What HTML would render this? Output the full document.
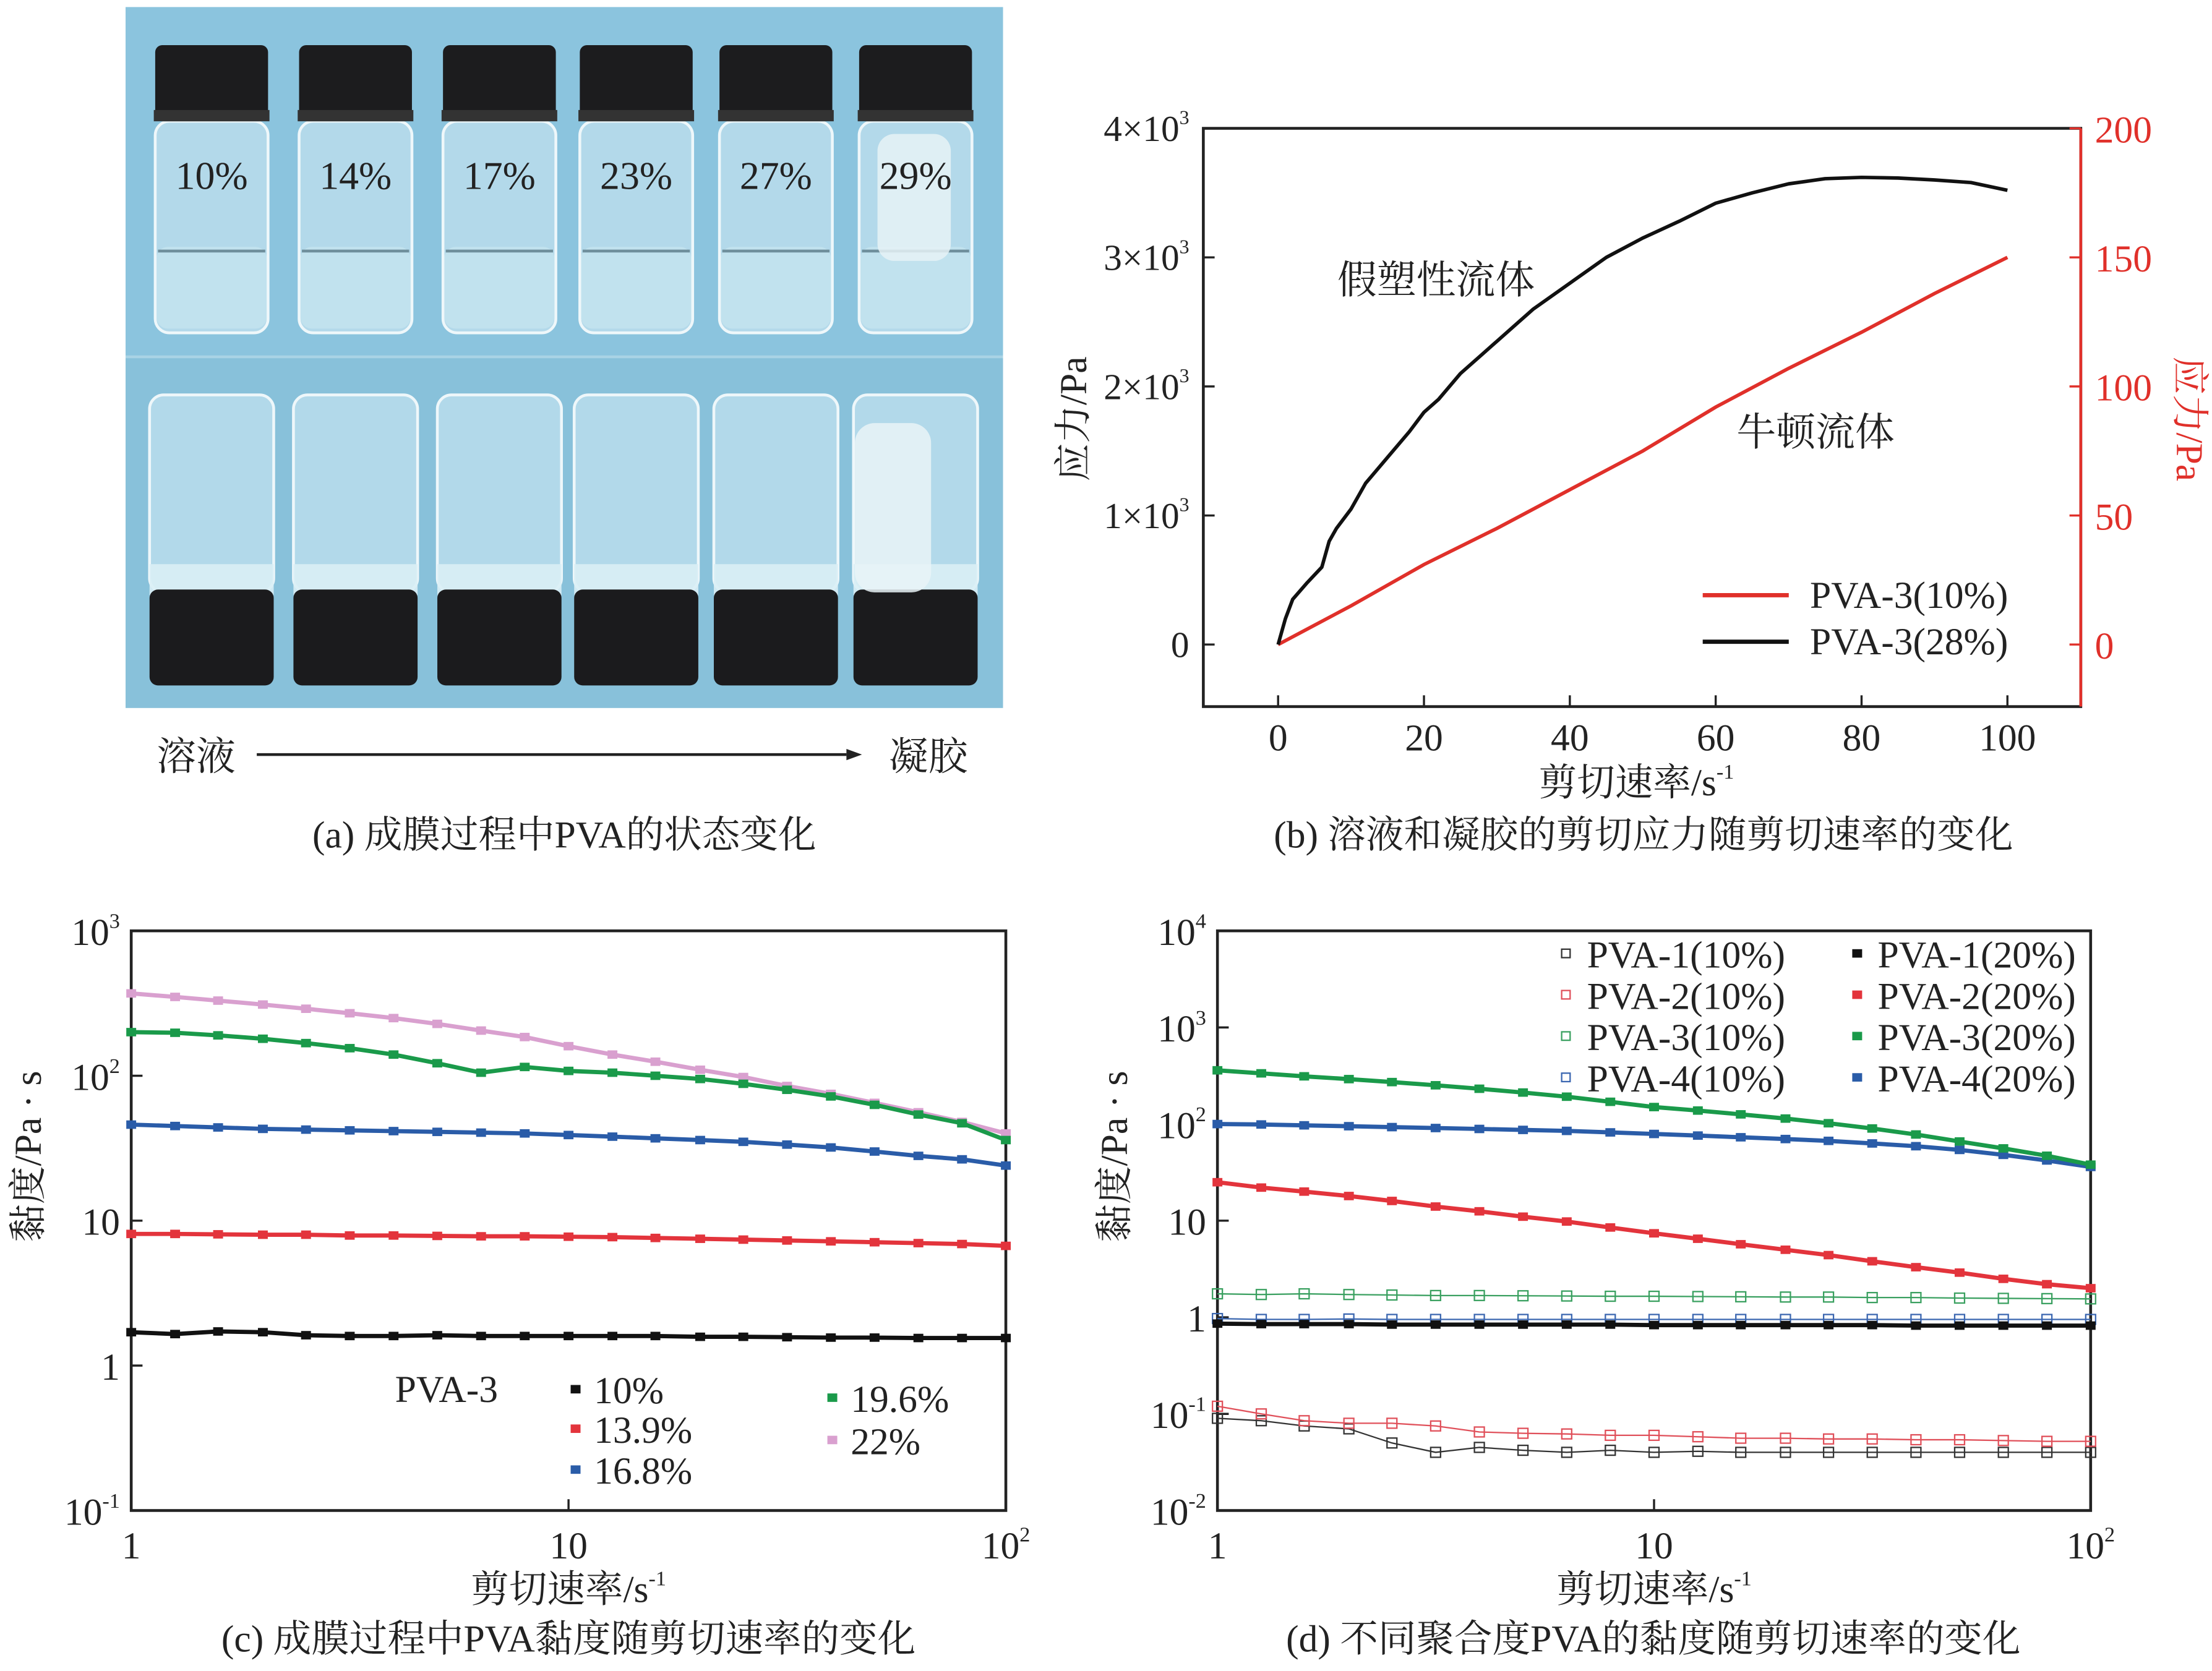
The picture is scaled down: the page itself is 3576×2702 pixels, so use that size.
<!DOCTYPE html>
<html><head><meta charset="utf-8">
<style>
html,body{margin:0;padding:0;background:#fff;}
svg{display:block;}
text{font-family:"Liberation Serif","Noto Serif CJK SC",serif;fill:#222;}
</style></head>
<body>
<svg id="fig" width="3576" height="2702" viewBox="0 0 1568 1184.8" xmlns="http://www.w3.org/2000/svg">
<g id="pa">
  <rect x="89" y="5" width="622" height="248" fill="#8bc4de"/>
  <rect x="89" y="253" width="622" height="249" fill="#88c1da"/>
  <line x1="89" y1="253" x2="711" y2="253" stroke="#a9d3e5" stroke-width="2"/>
</g>
<g id="texts">
  <text x="111" y="546" font-size="28">溶液</text>
  <line x1="182" y1="535" x2="600" y2="535" stroke="#222" stroke-width="2"/>
  <polygon points="600,531 611,535 600,539" fill="#222"/>
  <text x="630" y="546" font-size="28">凝胶</text>
  <text x="400" y="601" font-size="27" text-anchor="middle">(a) 成膜过程中PVA的状态变化</text>
  <text x="1165" y="601" font-size="27" text-anchor="middle">(b) 溶液和凝胶的剪切应力随剪切速率的变化</text>
  <text x="403" y="1171" font-size="27" text-anchor="middle">(c) 成膜过程中PVA黏度随剪切速率的变化</text>
  <text x="1172" y="1171" font-size="27" text-anchor="middle">(d) 不同聚合度PVA的黏度随剪切速率的变化</text>
</g>
<g id="pb"></g>
<g id="pc"></g>
<g id="pd"></g>
</svg>
<script>
// ---------- Panel a labels ----------
const vialLabels = ["10%","14%","17%","23%","27%","29%"];
// ---------- Panel b data ----------
const bBlackX = [0,1,2,4,6,7,8,10,12,15,18,20,22,25,28,30,33,35,40,45,50,55,60,65,70,75,80,85,90,95,100];
const bBlackY = [0,200,350,480,600,800,900,1050,1250,1450,1650,1800,1900,2100,2250,2350,2500,2600,2800,3000,3150,3280,3420,3500,3570,3610,3620,3615,3600,3580,3520];
const bRedX = [0,10,20,30,40,50,60,70,80,90,100];
const bRedY = [0,15,31,45,60,75,92,107,121,136,150];
const bXTicks = [0,20,40,60,80,100];
const bLeftTicks = [0,1,2,3,4];
const bRightTicks = [0,50,100,150,200];
// ---------- Panel c data (x = 10^(i/10), i=0..20) ----------
const cX = [1,1.26,1.58,2,2.51,3.16,3.98,5.01,6.31,7.94,10,12.6,15.8,20,25.1,31.6,39.8,50.1,63.1,79.4,100];
const c10 = [1.7,1.65,1.72,1.7,1.62,1.6,1.6,1.62,1.6,1.6,1.6,1.6,1.6,1.58,1.58,1.57,1.56,1.56,1.55,1.55,1.55];
const c139 = [8.1,8.1,8.05,8,8,7.9,7.9,7.85,7.8,7.8,7.75,7.7,7.6,7.5,7.4,7.3,7.2,7.1,7,6.9,6.7];
const c168 = [46,45,44,43,42.5,42,41.5,41,40.5,40,39,38,37,36,35,33.5,32,30,28,26.5,24];
const c196 = [200,198,190,180,168,155,140,122,105,115,108,105,100,95,88,80,72,63,54,47,36];
const c22 = [370,350,330,310,290,270,250,228,205,185,160,140,125,110,98,85,75,65,56,48,40];
// ---------- Panel d data ----------
const dX = cX;
const d1_10 = [0.09,0.085,0.075,0.07,0.05,0.04,0.045,0.042,0.04,0.042,0.04,0.041,0.04,0.04,0.04,0.04,0.04,0.04,0.04,0.04,0.04];
const d2_10 = [0.12,0.1,0.085,0.08,0.08,0.075,0.065,0.063,0.062,0.06,0.06,0.058,0.056,0.056,0.055,0.055,0.054,0.054,0.053,0.052,0.052];
const d3_10 = [1.75,1.72,1.75,1.72,1.7,1.68,1.68,1.67,1.66,1.65,1.65,1.64,1.63,1.62,1.62,1.6,1.6,1.58,1.57,1.56,1.55];
const d4_10 = [0.97,0.95,0.95,0.96,0.95,0.95,0.95,0.95,0.95,0.95,0.95,0.95,0.95,0.95,0.95,0.95,0.95,0.95,0.95,0.95,0.95];
const d1_20 = [0.86,0.85,0.85,0.85,0.84,0.84,0.84,0.84,0.84,0.84,0.83,0.83,0.83,0.83,0.83,0.83,0.82,0.82,0.82,0.82,0.82];
const d2_20 = [25,22,20,18,16,14,12.5,11,9.8,8.5,7.4,6.5,5.7,5,4.4,3.8,3.3,2.9,2.5,2.2,2];
const d3_20 = [360,335,312,292,272,252,232,212,192,170,150,138,126,114,102,90,78,66,56,47,38];
const d4_20 = [100,99,97,95,93,91,89,87,85,82,79,76,73,70,67,63,59,54,48,42,36];

const NS = "http://www.w3.org/2000/svg";
function mk(parent, tag, attrs, txt){
  const e = document.createElementNS(NS, tag);
  for (const k in attrs) e.setAttribute(k, attrs[k]);
  if (txt !== undefined) e.textContent = txt;
  parent.appendChild(e);
  return e;
}

// ---------- Panel a drawing ----------
const pa = document.getElementById('pa');
const vialCx = [150,252,354,451,550,649];
vialLabels.forEach((lab,i)=>{
  const cx = vialCx[i];
  const g = mk(pa,'g',{});
  
  
  mk(g,'rect',{x:cx-40,y:86,width:80,height:150,rx:10,fill:'#b3d9ea',stroke:'#eef7fa','stroke-width':2});
  mk(g,'rect',{x:cx-39,y:175,width:78,height:58,rx:8,fill:'#c4e3ef',opacity:0.8});
  mk(g,'line',{x1:cx-38,y1:178,x2:cx+38,y2:178,stroke:'#6f8f9c','stroke-width':2});
  mk(g,'rect',{x:cx-40,y:32,width:80,height:54,rx:5,fill:'#1c1c1e'});
  mk(g,'rect',{x:cx-41,y:78,width:82,height:8,fill:'#333'});
  if(i===5){
    mk(g,'rect',{x:cx-27,y:95,width:52,height:90,rx:12,fill:'#e6f2f6',opacity:0.85});
  }
  const t = mk(g,'text',{x:cx,y:134,'font-size':28,'text-anchor':'middle',fill:'#1a1a1a'},lab);
  
  
  const gb = mk(pa,'g',{});
  
  
  mk(gb,'rect',{x:cx-44,y:280,width:88,height:140,rx:10,fill:'#b2d9ea',stroke:'#eef7fa','stroke-width':2});
  mk(gb,'rect',{x:cx-44,y:400,width:88,height:22,fill:'#d9eef5',opacity:0.9});
  mk(gb,'rect',{x:cx-44,y:418,width:88,height:68,rx:6,fill:'#1b1b1d'});
});
mk(pa,'rect',{x:606,y:300,width:54,height:120,rx:14,fill:'#e9f3f7',opacity:0.85});

// ---------- Panel b ----------
const pb = document.getElementById('pb');
const bL=853,bR=1475,bT=91,bB=501,bX0=906,bX100=1423,bY0=457;
function bx(v){return bX0+(bX100-bX0)*v/100;}
function byL(v){return bY0-(bY0-bT)*v/4000;}
function byR(v){return bY0-(bY0-bT)*v/200;}
mk(pb,'rect',{x:bL,y:bT,width:bR-bL,height:bB-bT,fill:'none',stroke:'#222','stroke-width':2});
const bRightAx = mk(pb,'line',{x1:bR,y1:bT,x2:bR,y2:bB,stroke:'#e0302a','stroke-width':2});


bXTicks.forEach(v=>{
  mk(pb,'line',{x1:bx(v),y1:bB,x2:bx(v),y2:bB-8,stroke:'#222','stroke-width':1.5});
  const t=mk(pb,'text',{x:bx(v),y:532,'font-size':27,'text-anchor':'middle'},String(v));
  
  
});
bLeftTicks.forEach(v=>{
  const y=byL(v*1000);
  mk(pb,'line',{x1:bL,y1:y,x2:bL+8,y2:y,stroke:'#222','stroke-width':1.5});
  const t=mk(pb,'text',{x:843,y:y+9,'font-size':26,'text-anchor':'end'});
  
  
  if(v===0){t.textContent='0';}
  else{t.textContent=v+'×10';mk(t,'tspan',{'font-size':14,dy:-12},'3');}
});
bRightTicks.forEach(v=>{
  const y=byR(v);
  mk(pb,'line',{x1:bR,y1:y,x2:bR-8,y2:y,stroke:'#e0302a','stroke-width':1.5});
  const t=mk(pb,'text',{x:1485,y:y+10,'font-size':27,fill:'#e0302a',style:'fill:#e0302a'},String(v));
  
  
});
let t;
t=mk(pb,'text',{x:0,y:0,'font-size':27,'text-anchor':'middle',transform:'translate(770,297) rotate(-90)'},'应力/Pa');


t=mk(pb,'text',{x:0,y:0,'font-size':27,'text-anchor':'middle',style:'fill:#e0302a',transform:'translate(1543,297) rotate(90)'},'应力/Pa');


t=mk(pb,'text',{x:1160,y:564,'font-size':27,'text-anchor':'middle'},'剪切速率/s');
mk(t,'tspan',{'font-size':15,dy:-12},'-1');


t=mk(pb,'text',{x:948,y:208,'font-size':28},'假塑性流体');


t=mk(pb,'text',{x:1231,y:316,'font-size':28},'牛顿流体');


let pr = mk(pb,'polyline',{points:bRedX.map((x,i)=>bx(x)+','+byR(bRedY[i])).join(' '),fill:'none',stroke:'#e0302a','stroke-width':2.5});


let pk = mk(pb,'polyline',{points:bBlackX.map((x,i)=>bx(x)+','+byL(bBlackY[i])).join(' '),fill:'none',stroke:'#111','stroke-width':2.5,'stroke-linejoin':'round'});


mk(pb,'line',{x1:1207,y1:422,x2:1268,y2:422,stroke:'#e0302a','stroke-width':3});
t=mk(pb,'text',{x:1283,y:431,'font-size':27},'PVA-3(10%)');


mk(pb,'line',{x1:1207,y1:455,x2:1268,y2:455,stroke:'#111','stroke-width':3});
t=mk(pb,'text',{x:1283,y:464,'font-size':27},'PVA-3(28%)');



// ---------- log panels ----------
function logPanel(g, L,R,T,B, yMinExp,yMaxExp, yLabels){
  mk(g,'rect',{x:L,y:T,width:R-L,height:B-T,fill:'none',stroke:'#222','stroke-width':2});
  const xs=v=>L+(R-L)*Math.log10(v)/2;
  const ys=v=>B-(B-T)*(Math.log10(v)-yMinExp)/(yMaxExp-yMinExp);
  yLabels.forEach((lab,i)=>{
    const e=yMinExp+i, y=ys(Math.pow(10,e));
    if(i>0&&i<yLabels.length-1) mk(g,'line',{x1:L,y1:y,x2:L+8,y2:y,stroke:'#222','stroke-width':1.5});
    const tt=mk(g,'text',{x:L-8,y:y+10,'font-size':27,'text-anchor':'end'});
    
    
    tt.textContent=lab[0];
    if(lab[1]!==null) mk(tt,'tspan',{'font-size':15,dy:-12},lab[1]);
  });
  mk(g,'line',{x1:xs(10),y1:B,x2:xs(10),y2:B-8,stroke:'#222','stroke-width':1.5});
  [['1',null,1],['10',null,10],['10','2',100]].forEach(a=>{
    const tt=mk(g,'text',{x:xs(a[2]),y:B+34,'font-size':27,'text-anchor':'middle'});
    
    
    tt.textContent=a[0];
    if(a[1]) mk(tt,'tspan',{'font-size':15,dy:-12},a[1]);
  });
  const cx=(L+R)/2;
  const xt=mk(g,'text',{x:cx,y:1136,'font-size':27,'text-anchor':'middle'},'剪切速率/s');
  mk(xt,'tspan',{'font-size':15,dy:-12},'-1');
  
  
  const yt=mk(g,'text',{x:0,y:0,'font-size':27,'text-anchor':'middle',transform:'translate('+(L-64)+',820) rotate(-90)'},'黏度/Pa · s');
  
  
  return {xs,ys};
}
function series(g, ax, xv, yv, color, filled, name){
  const sg=mk(g,'g',{});
  
  
  mk(sg,'polyline',{points:xv.map((x,i)=>ax.xs(x)+','+ax.ys(yv[i])).join(' '),fill:'none',stroke:color,'stroke-width':filled?3:1});
  xv.forEach((x,i)=>{
    const px=ax.xs(x),py=ax.ys(yv[i]);
    if(filled) mk(sg,'rect',{x:px-3.5,y:py-3,width:7,height:6,fill:color});
    else mk(sg,'rect',{x:px-3.5,y:py-3.5,width:7,height:7,fill:'none',stroke:color,'stroke-width':1});
  });
}
// Panel c
const pc=document.getElementById('pc');
const axc=logPanel(pc,93,713,660,1071,-1,3,[['10','-1'],['1',null],['10',null],['10','2'],['10','3']]);
series(pc,axc,cX,c10,'#111',true,'series-c-10');
series(pc,axc,cX,c139,'#e3343c',true,'series-c-13-9');
series(pc,axc,cX,c168,'#2a5ca8',true,'series-c-16-8');
series(pc,axc,cX,c22,'#d9a0cf',true,'series-c-22');
series(pc,axc,cX,c196,'#1a9a4a',true,'series-c-19-6');
t=mk(pc,'text',{x:280,y:994,'font-size':27},'PVA-3');


[['10%','#111',408,985],['13.9%','#e3343c',408,1013],['16.8%','#2a5ca8',408,1042],['19.6%','#1a9a4a',590,991],['22%','#d9a0cf',590,1021]].forEach(a=>{
  mk(pc,'rect',{x:a[2]-3.5,y:a[3]-3,width:7,height:6,fill:a[1]});
  const tt=mk(pc,'text',{x:a[2]+13,y:a[3]+10,'font-size':27},a[0]);
  
  
});
// Panel d
const pd=document.getElementById('pd');
const axd=logPanel(pd,863,1482,660,1071,-2,4,[['10','-2'],['10','-1'],['1',null],['10',null],['10','2'],['10','3'],['10','4']]);
series(pd,axd,dX,d1_10,'#333',false,'series-pva1-10');
series(pd,axd,dX,d2_10,'#e0505a',false,'series-pva2-10');
series(pd,axd,dX,d3_10,'#3aa060',false,'series-pva3-10');
series(pd,axd,dX,d4_10,'#3a66b0',false,'series-pva4-10');
series(pd,axd,dX,d1_20,'#111',true,'series-pva1-20');
series(pd,axd,dX,d2_20,'#e3343c',true,'series-pva2-20');
series(pd,axd,dX,d4_20,'#2a5ca8',true,'series-pva4-20');
series(pd,axd,dX,d3_20,'#1a9a4a',true,'series-pva3-20');
[['PVA-1(10%)','#333',0],['PVA-2(10%)','#e0505a',1],['PVA-3(10%)','#3aa060',2],['PVA-4(10%)','#3a66b0',3]].forEach(a=>{
  const y=676+a[2]*29.3;
  mk(pd,'rect',{x:1107,y:y-3,width:6,height:6,fill:'none',stroke:a[1],'stroke-width':1});
  const tt=mk(pd,'text',{x:1125,y:y+10,'font-size':27},a[0]);
  
  
});
[['PVA-1(20%)','#111',0],['PVA-2(20%)','#e3343c',1],['PVA-3(20%)','#1a9a4a',2],['PVA-4(20%)','#2a5ca8',3]].forEach(a=>{
  const y=676+a[2]*29.3;
  mk(pd,'rect',{x:1313,y:y-3,width:7,height:6,fill:a[1]});
  const tt=mk(pd,'text',{x:1331,y:y+10,'font-size':27},a[0]);
  
  
});
</script>
</body></html>
